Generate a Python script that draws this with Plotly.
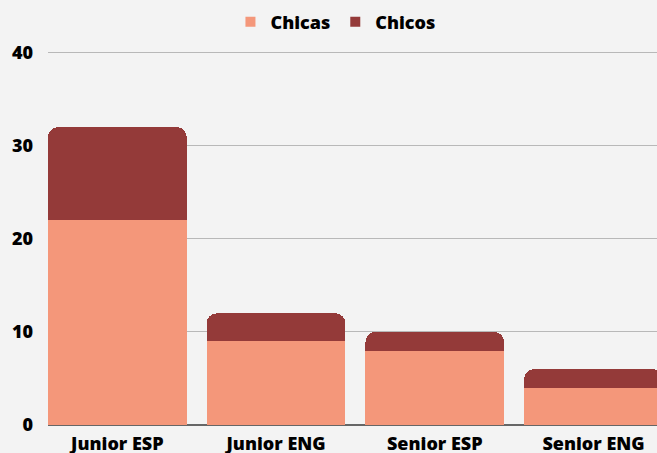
import plotly.graph_objects as go

categories = ["Junior ESP", "Junior ENG", "Senior ESP", "Senior ENG"]
chicas = [22, 9, 8, 4]
chicos = [10, 3, 2, 2]
y_ticks = [0, 10, 20, 30, 40]

font_main = dict(family="Open Sans", size=18, color="#000000", weight=800)
col_chicas = "#f4977a"
col_chicos = "#943a39"

fig = go.Figure()
fig.add_trace(go.Bar(name="Chicas", x=categories, y=chicas, marker_color=col_chicas,
                     marker_line_width=0, showlegend=False))
fig.add_trace(go.Bar(name="Chicos", x=categories, y=chicos, marker_color=col_chicos,
                     marker_line_width=0, showlegend=False))
# leyenda con cuadrados simples (las barras salen redondeadas en la leyenda)
for name, col in [("Chicas", col_chicas), ("Chicos", col_chicos)]:
    fig.add_trace(go.Scatter(x=[None], y=[None], mode="markers", name=name,
                             marker=dict(symbol="square", size=10, color=col)))

fig.update_layout(
    width=657, height=453,
    barmode="stack", bargap=0.126, barcornerradius=10,
    paper_bgcolor="#f3f3f3", plot_bgcolor="#f3f3f3",
    margin=dict(l=48, r=0, t=48, b=28, autoexpand=False),
    font=font_main,
    showlegend=True,
    legend=dict(orientation="h", x=0.472, xanchor="center", y=1.069, yanchor="middle",
                font=font_main, traceorder="normal", itemwidth=30,
                bgcolor="rgba(0,0,0,0)"),
    xaxis=dict(range=[-0.437, 3.4], showgrid=False, tickfont=font_main,
               showline=False, ticks="", automargin=False, ticklabelstandoff=6),
    yaxis=dict(range=[0, 40.5], tickvals=y_ticks, showgrid=True, gridcolor="#b8b8b8",
               gridwidth=1, zeroline=True, zerolinecolor="#666666", zerolinewidth=1.5,
               tickfont=font_main, ticklabelstandoff=14, automargin=False),
)

# quitar el margen por defecto del body para que el grafico llene la ventana
fig.write_html("out.html", config={"displayModeBar": False},
               post_script="document.body.style.margin='0';")
